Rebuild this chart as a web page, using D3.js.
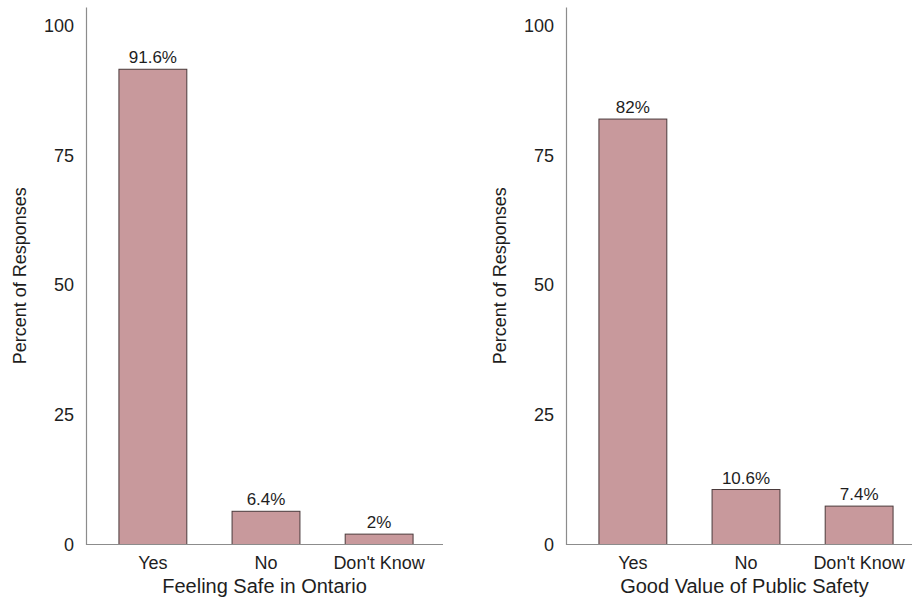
<!DOCTYPE html>
<html>
<head>
<meta charset="utf-8">
<script src="https://cdn.jsdelivr.net/npm/d3@7"></script>
<style>
  html, body { margin: 0; padding: 0; background: #fff; }
  svg { display: block; font-family: "Liberation Sans", Arial, sans-serif; }
</style>
</head>
<body>
<svg id="chart" width="912" height="600"></svg>
<script>
// Survey responses, percent of respondents
const categories = ["Yes", "No", "Don't Know"];
const safeValues = [91.6, 6.4, 2];
const valueValues = [82, 10.6, 7.4];
const safeLabels = ["91.6%", "6.4%", "2%"];
const valueLabels = ["82%", "10.6%", "7.4%"];
const yTicks = [0, 25, 50, 75, 100];
const panelTitles = ["Feeling Safe in Ontario", "Good Value of Public Safety"];
const yTitle = "Percent of Responses";

const svg = d3.select("#chart");
const barFill = "#c8999c";
const barStroke = "#4a3a3b";
const axisColor = "#8c8c8c";
const textColor = "#1e1e1e";

function panel(offsetX, values, labels, title) {
  const left = 86 + offsetX, right = 443 + offsetX;
  const x = d3.scaleBand()
    .domain(categories)
    .range([left - 1, right + 4])
    .paddingInner(0.4)
    .paddingOuter(0.3);
  const y = d3.scaleLinear().domain([0, 103.6]).range([544.5, 7]);

  const g = svg.append("g");

  // bars
  g.selectAll("rect.bar")
    .data(categories)
    .join("rect")
    .attr("class", "bar")
    .attr("x", d => x(d))
    .attr("width", x.bandwidth())
    .attr("y", (d, i) => y(values[i]))
    .attr("height", (d, i) => y(0) - y(values[i]))
    .attr("fill", barFill)
    .attr("stroke", barStroke)
    .attr("stroke-width", 1);

  // value labels above bars
  g.selectAll("text.val")
    .data(categories)
    .join("text")
    .attr("class", "val")
    .attr("x", d => x(d) + x.bandwidth() / 2)
    .attr("y", (d, i) => y(values[i]) - 6)
    .attr("text-anchor", "middle")
    .attr("font-size", 17)
    .attr("fill", textColor)
    .text((d, i) => labels[i]);

  // y axis
  const ya = g.append("g")
    .attr("transform", `translate(${left},0)`)
    .call(d3.axisLeft(y).tickValues(yTicks).tickSize(0).tickPadding(12));
  ya.select(".domain").attr("stroke", axisColor).attr("stroke-width", 1.2);
  ya.selectAll("text").attr("font-size", 18).attr("fill", textColor)
    .attr("font-family", "Liberation Sans, Arial, sans-serif");

  // x axis; baseline runs from the y axis to the panel's right edge
  const xa = g.append("g")
    .attr("transform", "translate(0,544.5)")
    .call(d3.axisBottom(x).tickSize(0).tickPadding(12).tickSizeOuter(0));
  xa.select(".domain")
    .attr("d", `M${left},0H${right}`)
    .attr("stroke", axisColor).attr("stroke-width", 1.2);
  xa.selectAll("text").attr("font-size", 18).attr("fill", textColor)
    .attr("font-family", "Liberation Sans, Arial, sans-serif");

  // axis titles
  g.append("text")
    .attr("x", (left + right) / 2)
    .attr("y", 593)
    .attr("text-anchor", "middle")
    .attr("font-size", 20)
    .attr("fill", textColor)
    .text(title);

  g.append("text")
    .attr("transform", `translate(${26 + offsetX},${(7 + 544.5) / 2}) rotate(-90)`)
    .attr("text-anchor", "middle")
    .attr("font-size", 18)
    .attr("fill", textColor)
    .text(yTitle);
}

panel(0, safeValues, safeLabels, panelTitles[0]);
panel(480, valueValues, valueLabels, panelTitles[1]);
</script>
</body>
</html>
